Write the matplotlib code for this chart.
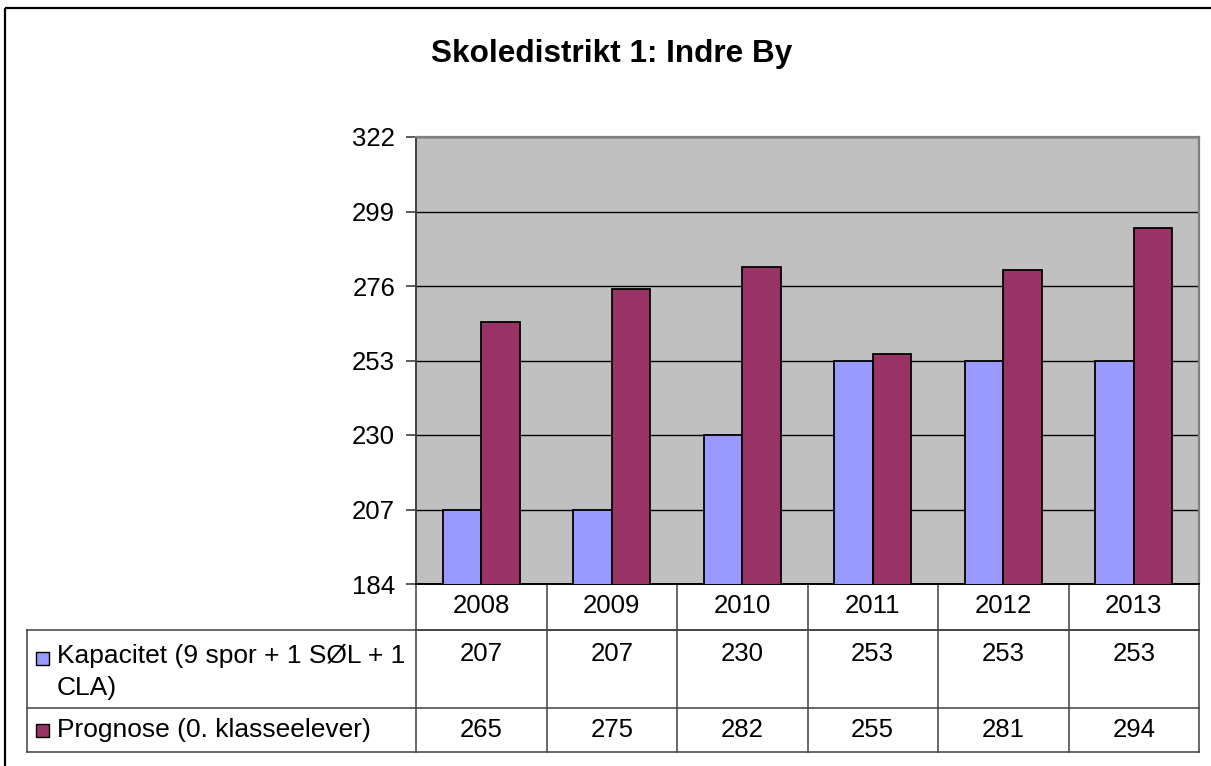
import matplotlib
matplotlib.use('Agg')
import matplotlib.pyplot as plt
import matplotlib.transforms as mtransforms
from matplotlib.patches import Rectangle
import numpy as np

plt.rcParams['font.family'] = ['Liberation Sans', 'DejaVu Sans']

# --- data ---
years = ['2008', '2009', '2010', '2011', '2012', '2013']
kapacitet = [207, 207, 230, 253, 253, 253]
prognose = [265, 275, 282, 255, 281, 294]
series_names = ['Kapacitet (9 spor + 1 SØL + 1\nCLA)', 'Prognose (0. klasseelever)']
y_ticks = [184, 207, 230, 253, 276, 299, 322]

title = 'Skoledistrikt 1: Indre By'
blue = '#9999FF'
maroon = '#993366'

W, H = 1211, 766
fig = plt.figure(figsize=(W / 100, H / 100), dpi=100)

# overlay in pixel coordinates (y down) for frame and table
ov = fig.add_axes([0, 0, 1, 1])
ov.set_xlim(0, W)
ov.set_ylim(H, 0)
ov.axis('off')

# plot area (pixels): left 416, right 1199, top 137, bottom 584
left, right, top, bottom = 416, 1199, 137, 584
ax = fig.add_axes([left / W, 1 - bottom / H, (right - left) / W, (bottom - top) / H])
ax.set_facecolor('#C0C0C0')

x = np.arange(len(years))
w = 0.295
ax.bar(x - w / 2, kapacitet, w, color=blue, edgecolor='black', linewidth=1.3, zorder=3)
ax.bar(x + w / 2, prognose, w, color=maroon, edgecolor='black', linewidth=1.3, zorder=3)

ax.set_xlim(-0.5, len(years) - 0.5)
ax.set_ylim(y_ticks[0], y_ticks[-1])
ax.set_yticks(y_ticks)
ax.set_xticks([])
ax.yaxis.grid(True, color='black', linewidth=1.0, zorder=1)
ax.set_axisbelow(True)
ax.tick_params(axis='y', direction='out', length=7, width=1.2, color='#404040',
               labelsize=18.5, pad=8)
for s in ['top', 'right']:
    ax.spines[s].set_color('#808080')
    ax.spines[s].set_linewidth(1.6)
ax.spines['left'].set_color('#404040')
ax.spines['left'].set_linewidth(1.4)
ax.spines['bottom'].set_color('black')
ax.spines['bottom'].set_linewidth(1.4)

# title
ov.text(612, 54, title, ha='center', va='center', fontsize=22.7, fontweight='bold')

# outer frame (cut off at right and bottom)
ov.add_patch(Rectangle((5, 8), W + 20, H + 20, fill=False, edgecolor='black', linewidth=1.6))

# --- data table below the chart ---
trans = mtransforms.blended_transform_factory(ax.transData, ov.transData)
lc = '#404040'
lw = 1.1
row_year = (bottom, 630)
row_kap = (630, 708)
row_prog = (708, 752)
tab_left = 27
fs = 18.5

# horizontal lines
ov.plot([left, right], [row_year[1], row_year[1]], color=lc, lw=lw)
ov.plot([tab_left, right], [row_kap[0], row_kap[0]], color=lc, lw=lw)
ov.plot([tab_left, right], [row_prog[0], row_prog[0]], color=lc, lw=lw)
ov.plot([tab_left, right], [row_prog[1], row_prog[1]], color=lc, lw=lw)
ov.plot([tab_left, tab_left], [row_kap[0], row_prog[1]], color=lc, lw=lw)
# vertical column lines
for i in range(len(years) + 1):
    ax.plot([i - 0.5, i - 0.5], [bottom, row_prog[1]], color=lc, lw=lw,
            transform=trans, clip_on=False)

for i, yr in enumerate(years):
    ax.text(i, 606, yr, transform=trans, ha='center', va='center', fontsize=fs)
    ax.text(i, 654, str(kapacitet[i]), transform=trans, ha='center', va='center', fontsize=fs)
    ax.text(i, 730, str(prognose[i]), transform=trans, ha='center', va='center', fontsize=fs)

# legend keys + labels
ov.add_patch(Rectangle((36, 652), 13, 13, facecolor=blue, edgecolor='black', linewidth=1.0))
ov.add_patch(Rectangle((36, 724), 13, 13, facecolor=maroon, edgecolor='black', linewidth=1.0))
ov.text(57, 644, series_names[0], ha='left', va='top', fontsize=19, linespacing=1.4)
ov.text(57, 730, series_names[1], ha='left', va='center', fontsize=19)

fig.savefig('out.png', dpi=100)
